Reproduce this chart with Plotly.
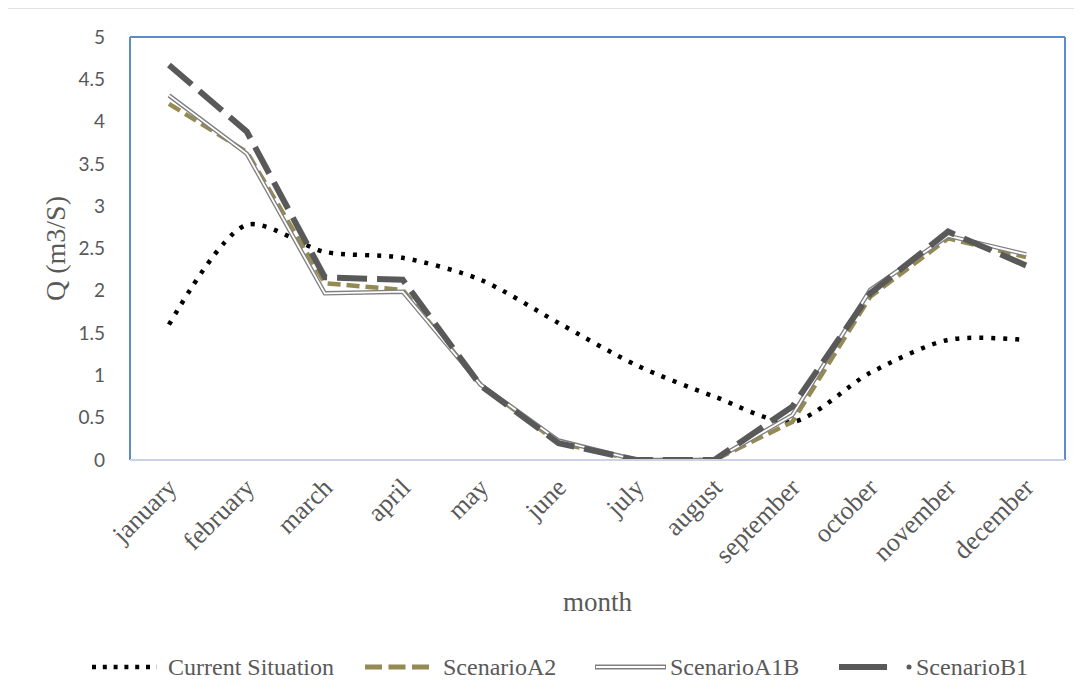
import plotly.graph_objects as go

months = ["january", "february", "march", "april", "may", "june", "july",
          "august", "september", "october", "november", "december"]
current = [1.60, 2.78, 2.46, 2.39, 2.13, 1.62, 1.12, 0.75, 0.45, 1.03, 1.42, 1.42]
scen_a2 = [4.21, 3.64, 2.09, 2.01, 0.89, 0.20, 0.0, 0.0, 0.45, 1.93, 2.62, 2.40]
scen_a1b = [4.31, 3.62, 1.97, 1.99, 0.89, 0.23, 0.0, 0.0, 0.53, 2.01, 2.65, 2.43]
scen_b1 = [4.67, 3.88, 2.16, 2.13, 0.88, 0.20, 0.0, 0.0, 0.63, 1.97, 2.70, 2.30]
y_ticks = [0, 0.5, 1, 1.5, 2, 2.5, 3, 3.5, 4, 4.5, 5]

OLIVE = "#948A54"
DARK = "#595959"
A1B_EDGE = "#808080"
SERIF = "Liberation Serif, Times New Roman, serif"
SANS = "Lato, Open Sans, sans-serif"

fig = go.Figure()
fig.add_trace(go.Scatter(x=months, y=current, mode="lines", name="Current Situation",
                         line=dict(color="black", width=4.5, dash="4px,8px", shape="spline", smoothing=0.8),
                         showlegend=False))
fig.add_trace(go.Scatter(x=months, y=scen_a2, mode="lines", name="ScenarioA2",
                         line=dict(color=OLIVE, width=4.5, dash="13px,6px"), showlegend=False))
fig.add_trace(go.Scatter(x=months, y=scen_a1b, mode="lines", name="ScenarioA1B",
                         line=dict(color=A1B_EDGE, width=4.5), showlegend=False))
fig.add_trace(go.Scatter(x=months, y=scen_a1b, mode="lines", name="ScenarioA1B inner",
                         line=dict(color="white", width=1.8), showlegend=False))
fig.add_trace(go.Scatter(x=months, y=scen_b1, mode="lines", name="ScenarioB1",
                         line=dict(color=DARK, width=6, dash="30px,10px"), showlegend=False))

# page offset (default body margin) compensation
OFF = 8
L, R, T, B = 130 - OFF, 1065 - OFF, 37 - OFF, 460 - OFF
W, H = R - L, B - T


def px(x):
    return (x - OFF - L) / W


def py(y):
    return (B - (y - OFF)) / H


shapes = [
    # outer chart frame
    dict(type="rect", xref="paper", yref="paper", x0=px(6), x1=px(1100), y0=py(8), y1=py(720),
         line=dict(color="#D9D9D9", width=1.5), fillcolor="rgba(0,0,0,0)", layer="below"),
    # plot frame: left, top, right blue; bottom light
    dict(type="line", xref="paper", yref="paper", x0=0, x1=0, y0=0, y1=1, line=dict(color="#5B8BD0", width=2)),
    dict(type="line", xref="paper", yref="paper", x0=0, x1=1, y0=1, y1=1, line=dict(color="#5B8BD0", width=2)),
    dict(type="line", xref="paper", yref="paper", x0=1, x1=1, y0=0, y1=1, line=dict(color="#5B8BD0", width=2)),
    dict(type="line", xref="paper", yref="paper", x0=0, x1=1, y0=0, y1=0, line=dict(color="#C9D3E3", width=2)),
]

# custom legend
ly = py(667)
shapes += [
    dict(type="line", xref="paper", yref="paper", x0=px(92), x1=px(157), y0=ly, y1=ly,
         line=dict(color="black", width=4.5, dash="4px,6.8px")),
    dict(type="line", xref="paper", yref="paper", x0=px(365), x1=px(429), y0=ly, y1=ly,
         line=dict(color=OLIVE, width=5, dash="17px,6.5px")),
    dict(type="line", xref="paper", yref="paper", x0=px(595), x1=px(666), y0=ly, y1=ly,
         line=dict(color=A1B_EDGE, width=5)),
    dict(type="line", xref="paper", yref="paper", x0=px(596), x1=px(665), y0=ly, y1=ly,
         line=dict(color="white", width=2)),
    dict(type="line", xref="paper", yref="paper", x0=px(839), x1=px(887), y0=ly, y1=ly,
         line=dict(color=DARK, width=6)),
    dict(type="circle", xref="paper", yref="paper", x0=px(906.5), x1=px(911.5), y0=py(664.5), y1=py(669.5),
         line=dict(width=0), fillcolor=DARK),
]
annotations = []
for text, x0 in [("Current Situation", 166), ("ScenarioA2", 441), ("ScenarioA1B", 668), ("ScenarioB1", 914)]:
    annotations.append(dict(text=text, xref="paper", yref="paper", x=px(x0), y=ly, xanchor="left",
                            yanchor="middle", showarrow=False,
                            font=dict(family=SERIF, size=24, color=DARK)))

fig.update_layout(
    width=1082, height=698,
    margin=dict(l=L, r=1082 - R, t=T, b=698 - B),
    paper_bgcolor="white", plot_bgcolor="white",
    showlegend=False,
    shapes=shapes, annotations=annotations,
    xaxis=dict(range=[-0.5, 11.5], automargin=False, showgrid=False, showline=False, zeroline=False,
               tickangle=-45,
               tickfont=dict(family=SERIF, size=26, color=DARK), ticklabelstandoff=6,
               title=dict(text="month", font=dict(family=SERIF, size=27, color=DARK), standoff=24)),
    yaxis=dict(range=[0, 5], automargin=False, tickvals=y_ticks, ticktext=[("%g" % v) for v in y_ticks],
               showgrid=False, showline=False, zeroline=False,
               tickfont=dict(family=SANS, size=19, color=DARK), ticklabelstandoff=24,
               title=dict(text="Q (m3/S)", font=dict(family=SERIF, size=28, color=DARK), standoff=4)),
)

fig.write_html("out.html")
